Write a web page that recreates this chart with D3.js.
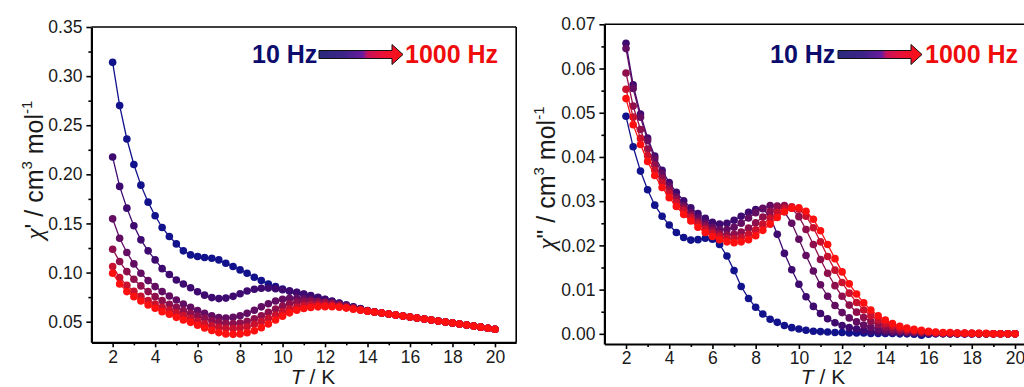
<!DOCTYPE html>
<html><head><meta charset="utf-8">
<script src="https://cdn.jsdelivr.net/npm/d3@7"></script>
<style>
body{margin:0;background:#fff;}
svg{display:block;}
text{font-family:"Liberation Sans",Arial,sans-serif;}
</style>
</head><body>
<svg id="c" width="1024" height="387"></svg>
<script>
// ---------------- DATA ----------------
const temps = [2.00,2.33,2.67,3.00,3.33,3.67,4.00,4.33,4.67,5.00,
  5.33,5.67,6.00,6.33,6.67,7.00,7.33,7.67,8.00,8.33,
  8.67,9.00,9.33,9.67,10.00,10.33,10.67,11.00,11.33,11.67,
  12.00,12.33,12.67,13.00,13.33,13.67,14.00,14.33,14.67,15.00,
  15.33,15.67,16.00,16.33,16.67,17.00,17.33,17.67,18.00,18.33,
  18.67,19.00,19.33,19.67,20.00];

const xTicks = [2,4,6,8,10,12,14,16,18,20];
const xMinorTicks = [3,5,7,9,11,13,15,17,19];
const yTicksReal = [0.05,0.10,0.15,0.20,0.25,0.30,0.35];
const yMinorReal = [0.075,0.125,0.175,0.225,0.275,0.325];
const yTicksImag = [0.00,0.01,0.02,0.03,0.04,0.05,0.06,0.07];
const yMinorImag = [0.005,0.015,0.025,0.035,0.045,0.055,0.065];

const legendLow = "10 Hz";
const legendHigh = "1000 Hz";

// chi' (in-phase), six frequencies from 10 Hz (f1) to 1000 Hz (f6)
const chiP_f1 = [0.314,0.270,0.236,0.210,0.189,0.1717,0.1578,0.1459,0.1367,0.1292,
  0.1221,0.1180,0.1163,0.1153,0.1146,0.1129,0.1095,0.1061,0.1027,0.0993,
  0.0952,0.0918,0.0884,0.0857,0.0833,0.0813,0.0796,0.0779,0.0762,0.0743,
  0.0724,0.0706,0.0688,0.0670,0.0652,0.0634,0.0612,0.0600,0.0589,0.0578,
  0.0567,0.0557,0.0547,0.0537,0.0527,0.0517,0.0507,0.0497,0.0487,0.0477,
  0.0466,0.0455,0.0444,0.0433,0.0423];
const chiP_f2 = [0.2176,0.1877,0.1656,0.1476,0.1333,0.1221,0.1129,0.1040,0.0980,0.0925,
  0.0884,0.0845,0.0805,0.0770,0.0745,0.0735,0.0740,0.0758,0.0785,0.0812,
  0.0830,0.0840,0.0842,0.0836,0.0825,0.0812,0.0798,0.0782,0.0765,0.0748,
  0.0729,0.0710,0.0690,0.0670,0.0650,0.0630,0.0610,0.0599,0.0589,0.0578,
  0.0567,0.0557,0.0547,0.0537,0.0527,0.0517,0.0507,0.0497,0.0487,0.0477,
  0.0466,0.0455,0.0444,0.0433,0.0423];
const chiP_f3 = [0.1547,0.1350,0.1204,0.1088,0.0993,0.0918,0.0857,0.0806,0.0762,0.0721,
  0.0680,0.0646,0.0612,0.0585,0.0561,0.0543,0.0537,0.0544,0.0561,0.0585,
  0.0617,0.0651,0.0683,0.0710,0.0728,0.0737,0.0738,0.0732,0.0722,0.0711,
  0.0699,0.0686,0.0673,0.0659,0.0644,0.0627,0.0609,0.0598,0.0588,0.0578,
  0.0567,0.0557,0.0547,0.0537,0.0527,0.0517,0.0507,0.0497,0.0487,0.0477,
  0.0466,0.0455,0.0444,0.0433,0.0423];
const chiP_f4 = [0.1238,0.1112,0.1010,0.0932,0.0864,0.0806,0.0755,0.0714,0.0677,0.0646,
  0.0612,0.0585,0.0558,0.0534,0.0512,0.0495,0.0484,0.0480,0.0486,0.0503,
  0.0530,0.0561,0.0595,0.0629,0.0658,0.0682,0.0698,0.0706,0.0707,0.0703,
  0.0696,0.0686,0.0673,0.0657,0.0641,0.0625,0.0608,0.0598,0.0588,0.0578,
  0.0567,0.0557,0.0547,0.0537,0.0527,0.0517,0.0507,0.0497,0.0487,0.0477,
  0.0466,0.0455,0.0444,0.0433,0.0423];
const chiP_f5 = [0.1061,0.0950,0.0870,0.0808,0.0758,0.0715,0.0679,0.0647,0.0619,0.0590,
  0.0562,0.0535,0.0505,0.0478,0.0457,0.0442,0.0432,0.0429,0.0435,0.0449,
  0.0473,0.0500,0.0534,0.0568,0.0600,0.0628,0.0650,0.0664,0.0672,0.0675,
  0.0673,0.0667,0.0657,0.0645,0.0631,0.0618,0.0606,0.0597,0.0588,0.0578,
  0.0567,0.0557,0.0547,0.0537,0.0527,0.0517,0.0507,0.0497,0.0487,0.0477,
  0.0466,0.0455,0.0444,0.0433,0.0423];
const chiP_f6 = [0.0993,0.0884,0.0806,0.0755,0.0711,0.0670,0.0636,0.0602,0.0575,0.0544,
  0.0517,0.0493,0.0463,0.0435,0.0410,0.0389,0.0375,0.0371,0.0374,0.0388,
  0.0408,0.0439,0.0476,0.0517,0.0556,0.0590,0.0617,0.0634,0.0645,0.0651,
  0.0653,0.0652,0.0647,0.0638,0.0627,0.0617,0.0607,0.0598,0.0588,0.0578,
  0.0567,0.0557,0.0547,0.0537,0.0527,0.0517,0.0507,0.0497,0.0487,0.0477,
  0.0466,0.0455,0.0444,0.0433,0.0423];

// chi'' (out-of-phase)
const chiPP_f1 = [0.0492,0.0423,0.0368,0.0326,0.0291,0.0266,0.0246,0.0229,0.0218,0.0212,
  0.0213,0.0216,0.0214,0.0202,0.0176,0.0143,0.0107,0.0080,0.0060,0.0045,
  0.0033,0.0026,0.0019,0.0014,0.0011,0.0008,0.0006,0.0005,0.0004,0.0003,
  0.0003,0.0002,0.0002,0.0002,0.0001,0.0001,0.0001,0.0001,0.0000,0.0000,
  -0.0001,-0.0003,-0.0001,0.0000,0.0000,0.0000,0.0000,0.0000,0.0000,0.0000,
  0.0000,0.0000,0.0000,0.0000,0.0000];
const chiPP_f2 = [0.0657,0.0563,0.0497,0.0443,0.0402,0.0370,0.0342,0.0320,0.0301,0.0285,
  0.0272,0.0261,0.0252,0.0248,0.0250,0.0257,0.0266,0.0275,0.0281,0.0283,
  0.0265,0.0225,0.0182,0.0145,0.0112,0.0084,0.0062,0.0046,0.0034,0.0025,
  0.0019,0.0014,0.0011,0.0008,0.0006,0.0005,0.0004,0.0003,0.0003,0.0002,
  0.0002,0.0001,0.0001,0.0001,0.0001,0.0000,0.0000,0.0000,0.0000,0.0000,
  0.0000,0.0000,0.0000,0.0000,0.0000];
const chiPP_f3 = [0.0645,0.0555,0.0490,0.0437,0.0396,0.0362,0.0334,0.0310,0.0290,0.0274,
  0.0261,0.0250,0.0241,0.0236,0.0236,0.0241,0.0250,0.0262,0.0274,0.0284,
  0.0290,0.0289,0.0276,0.0250,0.0214,0.0177,0.0142,0.0111,0.0085,0.0064,
  0.0048,0.0036,0.0027,0.0020,0.0015,0.0011,0.0008,0.0006,0.0005,0.0004,
  0.0003,0.0002,0.0002,0.0001,0.0001,0.0001,0.0001,0.0000,0.0000,0.0000,
  0.0000,0.0000,0.0000,0.0000,0.0000];
const chiPP_f4 = [0.0590,0.0515,0.0462,0.0418,0.0382,0.0352,0.0326,0.0304,0.0285,0.0268,
  0.0254,0.0243,0.0234,0.0227,0.0224,0.0225,0.0230,0.0239,0.0251,0.0264,
  0.0277,0.0287,0.0290,0.0284,0.0265,0.0236,0.0202,0.0168,0.0137,0.0109,
  0.0085,0.0065,0.0049,0.0037,0.0028,0.0021,0.0015,0.0011,0.0008,0.0006,
  0.0005,0.0004,0.0003,0.0002,0.0002,0.0001,0.0001,0.0001,0.0001,0.0000,
  0.0000,0.0000,0.0000,0.0000,0.0000];
const chiPP_f5 = [0.0553,0.0490,0.0442,0.0403,0.0370,0.0342,0.0318,0.0297,0.0279,0.0263,
  0.0249,0.0237,0.0228,0.0221,0.0216,0.0215,0.0218,0.0225,0.0235,0.0248,
  0.0262,0.0275,0.0284,0.0287,0.0282,0.0266,0.0240,0.0208,0.0175,0.0144,
  0.0116,0.0092,0.0071,0.0054,0.0041,0.0031,0.0023,0.0017,0.0012,0.0009,
  0.0007,0.0005,0.0004,0.0003,0.0002,0.0002,0.0001,0.0001,0.0001,0.0001,
  0.0000,0.0000,0.0000,0.0000,0.0000];
const chiPP_f6 = [0.0532,0.0473,0.0428,0.0390,0.0358,0.0331,0.0308,0.0288,0.0270,0.0255,
  0.0241,0.0229,0.0220,0.0213,0.0208,0.0206,0.0208,0.0213,0.0222,0.0234,
  0.0248,0.0263,0.0276,0.0284,0.0285,0.0277,0.0259,0.0233,0.0202,0.0170,
  0.0140,0.0113,0.0090,0.0070,0.0054,0.0041,0.0031,0.0023,0.0017,0.0013,
  0.0010,0.0008,0.0006,0.0004,0.0003,0.0003,0.0002,0.0002,0.0001,0.0001,
  0.0001,0.0000,0.0000,0.0000,0.0000];

// ---------------- DRAWING ----------------
const seriesColors = ["#12128c","#3e0a70","#620d62","#8e0f4c","#c8102f","#ff1010"];
const svg = d3.select("#c");
svg.append("rect").attr("width",1024).attr("height",387).attr("fill","#fff");

const defs = svg.append("defs");
const grad = defs.append("linearGradient").attr("id","arrGrad")
  .attr("x1","0%").attr("x2","100%").attr("y1","0%").attr("y2","0%");
[["0%","#2a2a7c"],["30%","#3d2488"],["52%","#6a1a9e"],["58%","#c8125a"],["75%","#e8103a"],["100%","#ff1010"]]
  .forEach(([o,c])=>grad.append("stop").attr("offset",o).attr("stop-color",c));

function panel(cfg){
  const x = d3.scaleLinear().domain([1,21]).range(cfg.xr);
  const y = d3.scaleLinear().domain(cfg.yd).range(cfg.yr);
  const g = svg.append("g");

  g.append("line").attr("x1",cfg.xr[0]).attr("x2",cfg.xr[1]).attr("y1",cfg.yr[1]).attr("y2",cfg.yr[1])
    .attr("stroke","#000").attr("stroke-width",1.6);
  g.append("line").attr("x1",cfg.xr[1]).attr("x2",cfg.xr[1]).attr("y1",cfg.yr[0]).attr("y2",cfg.yr[1])
    .attr("stroke","#000").attr("stroke-width",1.6);

  cfg.series.forEach((s,i)=>{
    const pts = temps.map((t,k)=>[t,s[k]]).filter(d=>d[1]!==undefined);
    g.append("path").datum(pts)
      .attr("d",d3.line().x(d=>x(d[0])).y(d=>y(d[1])))
      .attr("fill","none").attr("stroke",seriesColors[i]).attr("stroke-width",1.3);
    g.append("g").selectAll("circle").data(pts).join("circle")
      .attr("cx",d=>x(d[0])).attr("cy",d=>y(d[1])).attr("r",3.8)
      .attr("fill",seriesColors[i]);
  });

  const xb = g.append("g").attr("transform",`translate(0,${cfg.yr[0]})`)
    .call(d3.axisBottom(x).tickValues(xTicks).tickSize(5).tickSizeOuter(0).tickPadding(3).tickFormat(d3.format("d")));
  const xm = g.append("g").attr("transform",`translate(0,${cfg.yr[0]})`)
    .call(d3.axisBottom(x).tickValues(xMinorTicks).tickSize(3).tickSizeOuter(0).tickFormat(""));
  xm.select(".domain").remove();
  const yl = g.append("g").attr("transform",`translate(${cfg.xr[0]},0)`)
    .call(d3.axisLeft(y).tickValues(cfg.yt).tickSize(5).tickSizeOuter(0).tickPadding(4).tickFormat(d3.format(".2f")));
  const ym = g.append("g").attr("transform",`translate(${cfg.xr[0]},0)`)
    .call(d3.axisLeft(y).tickValues(cfg.ym).tickSize(3).tickSizeOuter(0).tickFormat(""));
  ym.select(".domain").remove();
  [xb,yl].forEach(a=>{
    a.select(".domain").attr("stroke-width",2.2).attr("stroke","#000");
    a.selectAll(".tick text").attr("font-size",17.5).attr("fill","#1a1a1a")
      .attr("font-family","'Liberation Sans',Arial,sans-serif");
  });
  [xb,xm,yl,ym].forEach(a=>a.selectAll(".tick line").attr("stroke","#000").attr("stroke-width",1.6));

  const xt = g.append("text").attr("x",cfg.xTitleX).attr("y",384).attr("text-anchor","middle")
    .attr("font-size",21).attr("fill","#1a1a1a");
  xt.append("tspan").attr("font-style","italic").text("T");
  xt.append("tspan").text(" / K");

  const yt = g.append("text").attr("transform",`translate(${cfg.yTitleX},${cfg.yTitleY}) rotate(-90)`)
    .attr("text-anchor","middle").attr("font-size",25).attr("fill","#1a1a1a");
  yt.append("tspan").attr("font-style","italic").attr("font-family","'Liberation Serif',serif").text("χ");
  yt.append("tspan").text(cfg.prime + " / cm");
  yt.append("tspan").attr("font-size",15).attr("dy",-11).text("3");
  yt.append("tspan").attr("dy",11).text(" mol");
  yt.append("tspan").attr("font-size",15).attr("dy",-11).text("-1");

  const L = cfg.leg;
  g.append("text").attr("x",L.t1).attr("y",63).attr("font-size",25).attr("font-weight","bold")
    .attr("fill","#0c0c6c").text(legendLow);
  const a0=L.a0, a1=L.a1, ah=a1-11, cy=54.5;
  g.append("path")
    .attr("d",`M${a0},${cy-4} L${ah},${cy-4} L${ah},${cy-10} L${a1},${cy} L${ah},${cy+10} L${ah},${cy+4} L${a0},${cy+4} Z`)
    .attr("fill","url(#arrGrad)").attr("stroke","#111").attr("stroke-width",1);
  g.append("text").attr("x",L.t2).attr("y",63).attr("font-size",25).attr("font-weight","bold")
    .attr("fill","#ee0c0c").text(legendHigh);
}

panel({
  xr:[91.4,516.2], yr:[342.3,27], yd:[0.029,0.35],
  yt:yTicksReal, ym:yMinorReal,
  series:[chiP_f1,chiP_f2,chiP_f3,chiP_f4,chiP_f5,chiP_f6],
  xTitleX:313, yTitleX:43, yTitleY:170, prime:"'",
  leg:{t1:252,a0:319,a1:403,t2:405}
});
panel({
  xr:[604.4,1036.6], yr:[344,24.3], yd:[-0.0023,0.07],
  yt:yTicksImag, ym:yMinorImag,
  series:[chiPP_f1,chiPP_f2,chiPP_f3,chiPP_f4,chiPP_f5,chiPP_f6],
  xTitleX:823, yTitleX:555, yTitleY:178, prime:"\"",
  leg:{t1:770,a0:838,a1:922,t2:925}
});
</script>
</body></html>
